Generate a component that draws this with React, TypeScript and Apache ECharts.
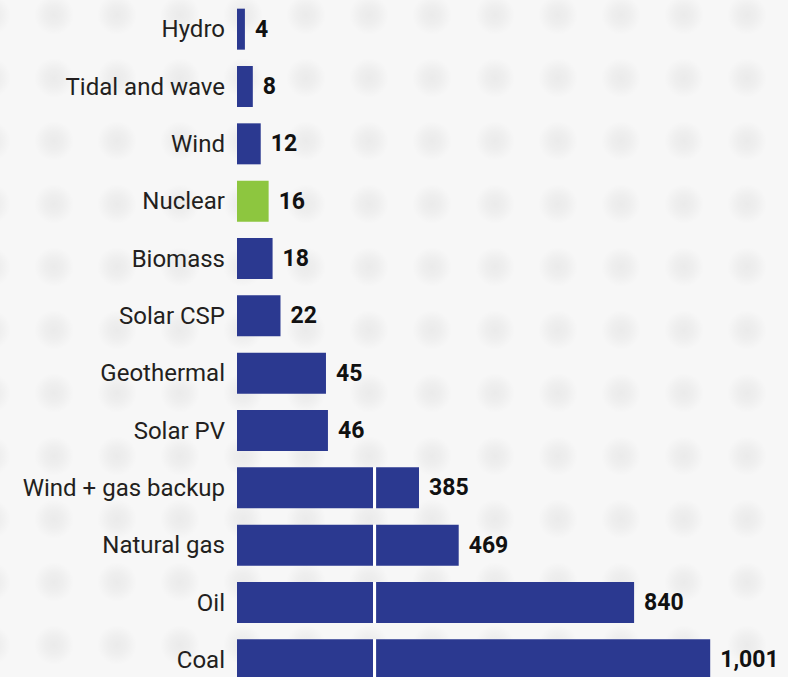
import React, { useEffect, useRef } from "react";
import * as echarts from "echarts";

const categories = [
  "Hydro",
  "Tidal and wave",
  "Wind",
  "Nuclear",
  "Biomass",
  "Solar CSP",
  "Geothermal",
  "Solar PV",
  "Wind + gas backup",
  "Natural gas",
  "Oil",
  "Coal",
];
const values = [4, 8, 12, 16, 18, 22, 45, 46, 385, 469, 840, 1001];
const highlighted = "Nuclear";

// small values are drawn on a magnified scale, large ones on the full scale
const SPLIT = 100;
const SMALL_MAX = 263;
const LARGE_MAX = 1100;
const DIVIDER = 291;
const GAP = 6.5;

const BLUE = "#2b3990";
const GREEN = "#8dc63f";

export default function App() {
  const ref = useRef<HTMLDivElement>(null);

  useEffect(() => {
    if (!ref.current) return;
    const chart = echarts.init(ref.current, null, { renderer: "svg" });

    const dots: any[] = [];
    for (let i = 0; i < 13; i++) {
      for (let j = 0; j < 11; j++) {
        dots.push({
          type: "circle",
          silent: true,
          z: -10,
          shape: { cx: -9 + 63 * i, cy: 15 + 63 * j, r: 20 },
          style: {
            fill: new echarts.graphic.RadialGradient(0.5, 0.5, 0.5, [
              { offset: 0, color: "rgba(0,0,0,0.05)" },
              { offset: 0.45, color: "rgba(0,0,0,0.035)" },
              { offset: 1, color: "rgba(0,0,0,0)" },
            ]),
          },
        });
      }
    }

    const valueLabel = {
      show: true,
      position: "right",
      distance: 10,
      fontFamily: "Roboto",
      fontWeight: "bold",
      fontSize: 23,
      color: "#111111",
    };

    const small = values.map((v, i) =>
      v < SPLIT
        ? {
            value: v,
            itemStyle: { color: categories[i] === highlighted ? GREEN : BLUE },
          }
        : "-"
    );
    const largeA = values.map((v) => (v >= SPLIT ? DIVIDER - GAP / 2 : "-"));
    const largeGap = values.map((v) => (v >= SPLIT ? GAP : "-"));
    const largeB = values.map((v) => (v >= SPLIT ? v - DIVIDER - GAP / 2 : "-"));

    chart.setOption({
      animation: false,
      backgroundColor: "#f7f7f7",
      graphic: { elements: dots },
      grid: {
        left: 237,
        top: 0.5,
        width: 520,
        height: 688,
        containLabel: false,
        outerBoundsMode: "none",
      },
      xAxis: [
        { type: "value", min: 0, max: SMALL_MAX, show: false },
        { type: "value", min: 0, max: LARGE_MAX, show: false },
      ],
      yAxis: {
        type: "category",
        inverse: true,
        data: categories,
        axisLine: { show: false },
        axisTick: { show: false },
        splitLine: { show: false },
        axisLabel: {
          margin: 12,
          fontFamily: "Roboto",
          fontSize: 24,
          color: "#231f20",
        },
      },
      series: [
        {
          type: "bar",
          xAxisIndex: 0,
          barWidth: 41,
          barGap: "-100%",
          data: small,
          itemStyle: { color: BLUE },
          label: { ...valueLabel, formatter: "{c}" },
          z: 2,
        },
        {
          type: "bar",
          xAxisIndex: 1,
          stack: "large",
          barWidth: 41,
          barGap: "-100%",
          data: largeA,
          itemStyle: { color: BLUE },
          z: 2,
        },
        {
          type: "bar",
          xAxisIndex: 1,
          stack: "large",
          barWidth: 41,
          barGap: "-100%",
          data: largeGap,
          itemStyle: { color: "#ffffff" },
          z: 2,
        },
        {
          type: "bar",
          xAxisIndex: 1,
          stack: "large",
          barWidth: 41,
          barGap: "-100%",
          data: largeB,
          itemStyle: { color: BLUE },
          label: {
            ...valueLabel,
            formatter: (p: any) => values[p.dataIndex].toLocaleString("en-US"),
          },
          z: 2,
        },
      ],
    });

    return () => chart.dispose();
  }, []);

  return (
    <div
      ref={ref}
      style={{ position: "fixed", left: 0, top: 0, width: 788, height: 677 }}
    />
  );
}
